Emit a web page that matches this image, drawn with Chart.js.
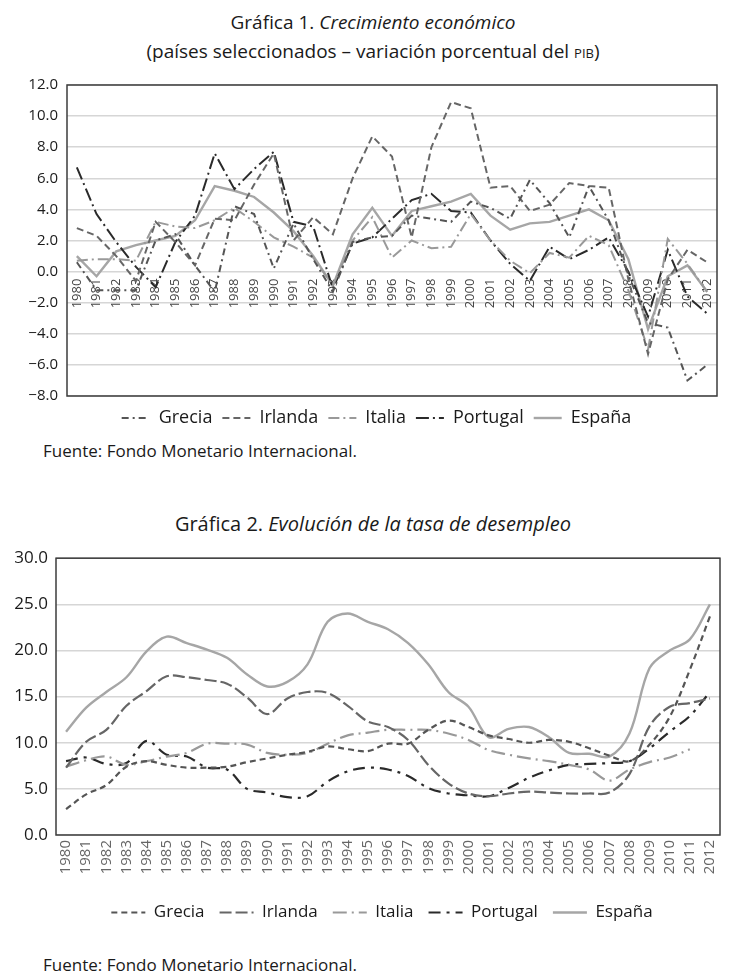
<!DOCTYPE html>
<html>
<head>
<meta charset="utf-8">
<script src="https://cdn.jsdelivr.net/npm/chart.js@4.4.1/dist/chart.umd.min.js"></script>
<style>
	html, body { margin: 0; padding: 0; background: #fff; }
	body { width: 746px; height: 977px; position: relative; overflow: hidden; font-family: "Open Sans", sans-serif; color: #1a1a1a; }
	.t { position: absolute; left: 0; width: 746px; text-align: center; font-size: 19px; line-height: 26px; }
	.src { position: absolute; left: 43px; font-size: 17px; line-height: 22px; }
	.box { position: absolute; left: 0; width: 746px; }
</style>
</head>
<body>
<div class="t" style="top:9px">Gráfica 1. <i>Crecimiento económico</i></div>
<div class="t" style="top:38px">(países seleccionados – variación porcentual del <span style="font-variant:small-caps">pib</span>)</div>
<div class="box" style="top:67px;height:372px"><canvas id="chart-pib"></canvas></div>
<div class="src" style="top:440px">Fuente: Fondo Monetario Internacional.</div>
<div class="t" style="top:511px;font-size:20px">Gráfica 2. <i>Evolución de la tasa de desempleo</i></div>
<div class="box" style="top:540px;height:400px"><canvas id="chart-paro"></canvas></div>
<div class="src" style="top:954px">Fuente: Fondo Monetario Internacional.</div>

<script>
/* Gráfica 1 y 2 -- crecimiento del PIB y desempleo (FMI) */

const YEARS = ["1980", "1981", "1982", "1983", "1984", "1985", "1986", "1987", "1988", "1989",
	"1990", "1991", "1992", "1993", "1994", "1995", "1996", "1997", "1998", "1999",
	"2000", "2001", "2002", "2003", "2004", "2005", "2006", "2007", "2008", "2009",
	"2010", "2011", "2012"];

// Gráfica 1: variación porcentual del PIB
const GRECIA_PIB = [0.6, -1.2, -1.2, -1.2, 2.0, 2.4, 0.4, -1.3, 4.2, 3.7, 0.2, 3.1, 0.8, -1.3, 1.9, 2.2, 2.3, 3.6, 3.4, 3.2, 4.5, 4.1, 3.4, 5.9, 4.4, 2.2, 5.5, 3.3, -0.2, -3.3, -3.6, -7.0, -6.0];
const IRLANDA_PIB = [2.8, 2.3, 1.0, -0.6, 3.2, 1.9, 0.4, 3.4, 3.3, 5.6, 7.6, 2.0, 3.5, 2.4, 6.0, 8.7, 7.4, 2.2, 8.0, 10.9, 10.5, 5.4, 5.5, 3.9, 4.3, 5.7, 5.5, 5.4, -0.5, -5.3, -0.5, 1.4, 0.6];
const ITALIA_PIB = [0.7, 0.8, 0.8, 0.7, 3.2, 2.9, 2.8, 3.3, 4.1, 3.2, 2.2, 1.6, 0.9, -0.9, 2.0, 3.5, 0.9, 2.0, 1.5, 1.6, 3.7, 2.0, 0.7, -0.1, 1.2, 0.9, 2.3, 1.7, -1.2, -5.0, 2.1, 0.5, -1.3];
const PORTUGAL_PIB = [6.7, 3.7, 1.9, 0.3, -1.0, 1.9, 3.6, 7.6, 5.3, 6.6, 7.7, 3.2, 2.9, -1.1, 1.8, 2.2, 3.4, 4.6, 5.0, 3.9, 3.8, 2.0, 0.5, -0.6, 1.6, 0.8, 1.4, 2.2, 0.0, -2.9, 1.4, -1.6, -2.7];
const ESPANA_PIB = [1.0, -0.3, 1.3, 1.7, 2.0, 2.3, 3.3, 5.5, 5.2, 4.8, 3.8, 2.6, 1.0, -0.9, 2.4, 4.1, 2.3, 3.9, 4.2, 4.5, 5.0, 3.6, 2.7, 3.1, 3.2, 3.6, 4.0, 3.3, 0.8, -3.7, -0.3, 0.4, -1.3];

// Gráfica 2: tasa de desempleo
const GRECIA_PARO = [2.8, 4.4, 5.4, 7.4, 8.0, 7.6, 7.3, 7.3, 7.4, 7.9, 8.3, 8.7, 9.0, 9.6, 9.3, 9.1, 9.9, 9.9, 11.4, 12.4, 11.7, 10.8, 10.4, 10.0, 10.3, 10.1, 9.4, 8.6, 8.0, 9.8, 12.8, 17.9, 23.7];
const IRLANDA_PARO = [7.3, 10.1, 11.4, 14.0, 15.6, 17.2, 17.1, 16.8, 16.4, 14.9, 13.1, 14.8, 15.5, 15.4, 14.0, 12.3, 11.7, 10.3, 7.6, 5.6, 4.5, 4.2, 4.5, 4.7, 4.6, 4.5, 4.5, 4.6, 6.6, 11.8, 13.9, 14.3, 14.8];
const ITALIA_PARO = [7.4, 8.1, 8.5, 7.6, 8.0, 8.5, 8.9, 9.9, 9.9, 9.8, 8.9, 8.7, 8.9, 9.9, 10.8, 11.1, 11.4, 11.4, 11.4, 11.0, 10.3, 9.2, 8.7, 8.3, 8.0, 7.6, 7.1, 5.9, 7.1, 7.9, 8.4, 9.3, null];
const PORTUGAL_PARO = [8.0, 8.4, 7.7, 7.8, 10.2, 8.7, 8.5, 7.3, 7.1, 5.0, 4.6, 4.1, 4.2, 5.8, 6.9, 7.3, 7.1, 6.4, 5.1, 4.5, 4.3, 4.2, 5.1, 6.2, 7.0, 7.6, 7.7, 7.8, 8.0, 9.4, 11.2, 12.9, 15.5];
const ESPANA_PARO = [11.2, 13.8, 15.5, 17.1, 19.9, 21.5, 20.8, 20.1, 19.2, 17.4, 16.1, 16.6, 18.5, 23.1, 24.0, 23.1, 22.3, 20.8, 18.5, 15.5, 13.9, 10.6, 11.5, 11.7, 10.6, 8.9, 8.8, 8.5, 11.0, 18.1, 20.0, 21.2, 25.0];

const FONT = "'Open Sans', sans-serif";

const STYLES_PIB = {
	grecia: { color: "#555", dash: [7, 4, 2, 4] },
	irlanda: { color: "#666", dash: [7, 4] },
	italia: { color: "#999", dash: [11, 4, 2, 4] },
	portugal: { color: "#2a2a2a", dash: [13, 4, 2, 4] },
	espana: { color: "#a6a6a6", dash: [] },
};

const STYLES_PARO = {
	grecia: { color: "#555", dash: [6, 4] },
	irlanda: { color: "#666", dash: [12, 4] },
	italia: { color: "#999", dash: [14, 5, 2, 5] },
	portugal: { color: "#2a2a2a", dash: [12, 6, 3, 6] },
	espana: { color: "#a6a6a6", dash: [] },
};

// Frame round the plot area, as in the Excel originals
const framePlugin = {
	id: "frame",
	afterDraw(chart) {
		const { ctx, chartArea: a } = chart;
		ctx.save();
		ctx.strokeStyle = "#3c3c3c";
		ctx.lineWidth = 1.5;
		ctx.strokeRect(a.left, a.top, a.right - a.left, a.bottom - a.top);
		ctx.restore();
	},
};

// The Excel legends are not centred on the page; nudge them a little
function legendShift(dx, dy) {
	return {
		id: "legendShift",
		afterLayout(chart) {
			chart.legend.left += dx;
			chart.legend.right += dx;
			chart.legend.top += dy;
			chart.legend.bottom += dy;
		},
	};
}

function series(label, data, style, width, tension) {
	return {
		label: label,
		data: data,
		borderColor: style.color,
		backgroundColor: style.color,
		borderDash: style.dash,
		borderWidth: width,
		pointRadius: 0,
		tension: tension,
		spanGaps: false,
	};
}

function fmt(v) {
	return v < 0 ? "\u2212" + Math.abs(v).toFixed(1) : v.toFixed(1);
}

// legend samples keep the dash of each line
function dashedLabels(chart) {
	const items = Chart.defaults.plugins.legend.labels.generateLabels(chart);
	items.forEach(item => {
		const ds = chart.data.datasets[item.datasetIndex];
		item.lineDash = ds.borderDash;
		item.lineWidth = ds.borderWidth;
		item.strokeStyle = ds.borderColor;
	});
	return items;
}

function legendOptions(size, padding, sample) {
	return {
		position: "bottom",
		labels: {
			usePointStyle: true,
			pointStyle: "line",
			pointStyleWidth: sample,
			boxHeight: 2,
			color: "#1a1a1a",
			font: { family: FONT, size: size },
			padding: padding,
			generateLabels: dashedLabels,
		},
	};
}

new Chart(document.getElementById("chart-pib"), {
	type: "line",
	data: {
		labels: YEARS,
		datasets: [
			series("Grecia", GRECIA_PIB, STYLES_PIB.grecia, 2, 0),
			series("Irlanda", IRLANDA_PIB, STYLES_PIB.irlanda, 2, 0),
			series("Italia", ITALIA_PIB, STYLES_PIB.italia, 2, 0),
			series("Portugal", PORTUGAL_PIB, STYLES_PIB.portugal, 2, 0),
			series("España", ESPANA_PIB, STYLES_PIB.espana, 2.4, 0),
		],
	},
	options: {
		responsive: true,
		maintainAspectRatio: false,
		animation: false,
		layout: { padding: { top: 11, right: 29, left: 0, bottom: 5 } },
		plugins: {
			legend: legendOptions(18, 10, 28),
			tooltip: { enabled: false },
		},
		scales: {
			x: {
				position: { y: 0 },
				offset: true,
				z: 1,
				grid: { display: false, drawTicks: false },
				border: { display: false },
				ticks: {
					autoSkip: false,
					minRotation: 90,
					maxRotation: 90,
					padding: 7,
					color: "#444",
					font: { family: FONT, size: 13 },
				},
			},
			y: {
				min: -8,
				max: 12,
				afterFit(scale) { scale.width = 67; },
				grid: { color: "#d6d6d6", lineWidth: 1.5, drawTicks: false },
				border: { display: false },
				ticks: {
					stepSize: 2,
					padding: 9,
					color: "#1a1a1a",
					font: { family: FONT, size: 15 },
					callback: fmt,
				},
			},
		},
	},
	plugins: [framePlugin, legendShift(18, 3)],
});

new Chart(document.getElementById("chart-paro"), {
	type: "line",
	data: {
		labels: YEARS,
		datasets: [
			series("Grecia", GRECIA_PARO, STYLES_PARO.grecia, 2.2, 0.35),
			series("Irlanda", IRLANDA_PARO, STYLES_PARO.irlanda, 2.2, 0.35),
			series("Italia", ITALIA_PARO, STYLES_PARO.italia, 2.2, 0.35),
			series("Portugal", PORTUGAL_PARO, STYLES_PARO.portugal, 2.2, 0.35),
			series("España", ESPANA_PARO, STYLES_PARO.espana, 2.4, 0.35),
		],
	},
	options: {
		responsive: true,
		maintainAspectRatio: false,
		animation: false,
		layout: { padding: { top: 16, right: 26, left: 0, bottom: 9 } },
		plugins: {
			legend: legendOptions(17, 15, 34),
			tooltip: { enabled: false },
		},
		scales: {
			x: {
				offset: true,
				afterFit(scale) { scale.height = 54; },
				grid: { display: false, drawTicks: false },
				border: { display: false },
				ticks: {
					autoSkip: false,
					minRotation: 90,
					maxRotation: 90,
					padding: 5,
					color: "#666",
					font: { family: FONT, size: 15 },
				},
			},
			y: {
				min: 0,
				max: 30,
				afterFit(scale) { scale.width = 56; },
				grid: { color: "#d6d6d6", lineWidth: 1.5, drawTicks: false },
				border: { display: false },
				ticks: {
					stepSize: 5,
					padding: 8,
					color: "#1a1a1a",
					font: { family: FONT, size: 17 },
					callback: fmt,
				},
			},
		},
	},
	plugins: [framePlugin, legendShift(22, 0)],
});
</script>
</body>
</html>
